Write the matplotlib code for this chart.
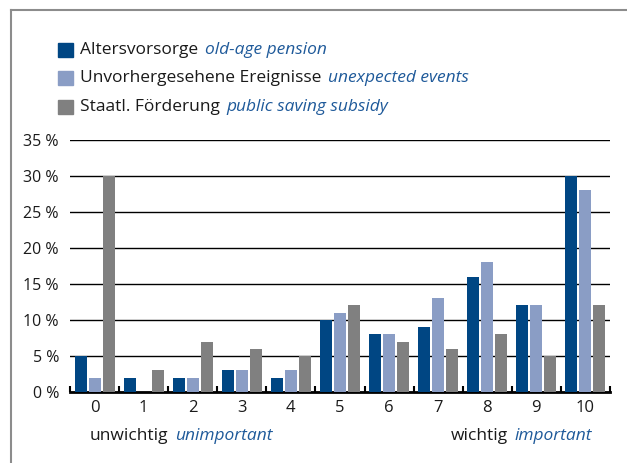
import matplotlib
matplotlib.use('Agg')
import matplotlib.pyplot as plt
from matplotlib.patches import Rectangle
from matplotlib.lines import Line2D
import numpy as np

plt.rcParams['font.family'] = ['Open Sans', 'DejaVu Sans']

categories = ['0', '1', '2', '3', '4', '5', '6', '7', '8', '9', '10']
alters = [5, 2, 2, 3, 2, 10, 8, 9, 16, 12, 30]
unvorher = [2, 0, 2, 3, 3, 11, 8, 13, 18, 12, 28]
staatl = [30, 3, 7, 6, 5, 12, 7, 6, 8, 5, 12]
yticks = [0, 5, 10, 15, 20, 25, 30, 35]

series_de = ['Altersvorsorge', 'Unvorhergesehene Ereignisse', 'Staatl. Förderung']
series_en = ['old-age pension', 'unexpected events', 'public saving subsidy']
colors = ['#004683', '#8a9dc5', '#808080']
blue_txt = '#1f5a9a'

fig = plt.figure(figsize=(6.27, 4.63), dpi=100)
ax = fig.add_axes([70 / 627, 1 - 392 / 463, 540 / 627, (392 - 139.5) / 463])

x = np.arange(len(categories))
w = 0.245
for off, vals, c in zip([-0.285, 0, 0.285], [alters, unvorher, staatl], colors):
    ax.bar(x + off, vals, width=w, color=c, zorder=3)

ax.set_xlim(-0.5, len(categories) - 0.5)
ax.set_ylim(0, 35)
ax.set_yticks(yticks)
ax.set_yticklabels([f'{v} %' for v in yticks], fontsize=11.5, color='#1a1a1a')
ax.yaxis.grid(True, color='black', lw=1)
ax.set_axisbelow(True)
ax.tick_params(axis='y', length=0, pad=8)
ax.set_xticks(x)
ax.set_xticklabels(categories, fontsize=12, color='#1a1a1a')
ax.set_xticks(np.arange(-0.5, len(categories)), minor=True)
ax.tick_params(axis='x', which='major', length=0, pad=6)
ax.tick_params(axis='x', which='minor', direction='in', length=4, width=1.5, color='black')
for s in ['top', 'right', 'left']:
    ax.spines[s].set_visible(False)
ax.spines['bottom'].set_linewidth(2)

# frame lines
fig.add_artist(Line2D([11 / 627, 11 / 627], [0, 1 - 10 / 463], color='#8c8c8c', lw=1.5))
fig.add_artist(Line2D([11 / 627, 1], [1 - 10 / 463, 1 - 10 / 463], color='#8c8c8c', lw=1.5))

renderer = fig.canvas.get_renderer()


def two_part(xp, yp, a, b, size, ha='left'):
    t1 = fig.text(xp, yp, a, fontsize=size, color='#1a1a1a', va='center')
    bb = t1.get_window_extent(renderer)
    t2 = fig.text(bb.x1 / fig.bbox.width + 7 / 627, yp, b, fontsize=size,
                  style='italic', color=blue_txt, va='center')
    if ha == 'right':
        bb2 = t2.get_window_extent(renderer)
        shift = (bb2.x1 / fig.bbox.width) - xp
        t1.set_x(t1.get_position()[0] - shift)
        t2.set_x(t2.get_position()[0] - shift)


# legend
for i, (de, en, c) in enumerate(zip(series_de, series_en, colors)):
    yc = 1 - (50 + i * 28.5) / 463
    fig.add_artist(Rectangle((58 / 627, yc - 7 / 463), 15 / 627, 14 / 463,
                             color=c, transform=fig.transFigure))
    two_part(80 / 627, yc, de, en, 12.5)

two_part(90 / 627, 1 - 436 / 463, 'unwichtig', 'unimportant', 12.5)
two_part(592 / 627, 1 - 436 / 463, 'wichtig', 'important', 12.5, ha='right')

fig.savefig('out.png', dpi=100)
